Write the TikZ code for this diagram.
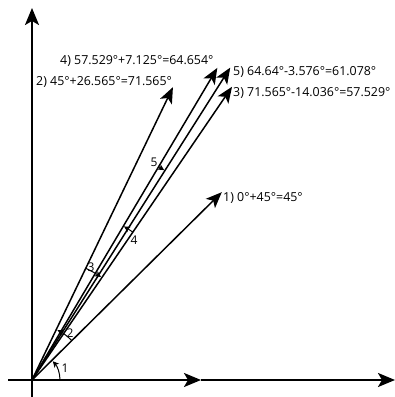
\documentclass[tikz,border=0pt]{standalone}
\usepackage{fontspec}
\setmainfont{Open Sans}
\usetikzlibrary{arrows.meta,calc}
\begin{document}
\begin{tikzpicture}[x=1pt,y=1pt,
  axis/.style={line width=2pt,-{Stealth[length=17pt,width=14pt,inset=4pt]}},
  vec/.style={line width=1.5pt,-{Stealth[length=16pt,width=13pt,inset=4pt]}},
  ang/.style={line width=1pt,-{Stealth[length=6pt,width=6pt,inset=1.5pt]}},
  lab/.style={inner sep=0pt,anchor=west,font=\fontsize{12.4}{14}\selectfont},
  num/.style={inner sep=0pt,font=\fontsize{12}{14}\selectfont}]
\useasboundingbox (0,0) rectangle (395,397);
\coordinate (O) at (32,17);
\coordinate (xs) at (8,17);
\coordinate (xm) at (201,17);
\coordinate (xe) at (395,17);
\coordinate (ys) at (32,0);
\coordinate (ye) at (32,389);
\coordinate (t1) at ($(O)+(44.7:267)$);
\coordinate (t2) at ($(O)+(64.3:325)$);
\coordinate (t4) at ($(O)+(59.3:363)$);
\coordinate (t5) at ($(O)+(57.6:370)$);
\coordinate (t3) at ($(O)+(55.7:355)$);
% axes
\draw[axis] (xs) -- (xm);
\draw[axis] (xm) -- (xe);
\draw[axis] (ys) -- (ye);
% vectors
\draw[vec] (O) -- (t1);
\draw[vec] (O) -- (t2);
\draw[vec] (O) -- (t4);
\draw[vec] (O) -- (t5);
\draw[vec] (O) -- (t3);
% angle arcs
\draw[ang] ($(O)+(0:28)$) arc[start angle=0,end angle=42,radius=28];
\draw[ang] ($(O)+(44.7:56)$) arc[start angle=44.7,end angle=63,radius=56];
\draw[ang] ($(O)+(64.3:124)$) arc[start angle=64.3,end angle=56.2,radius=124];
\draw[ang] ($(O)+(55.7:179)$) arc[start angle=55.7,end angle=59.1,radius=179];
\draw[ang] ($(O)+(59.3:248)$) arc[start angle=59.3,end angle=57.8,radius=248];
% angle numbers
\node[num] (n1) at (65,29) {1};
\node[num] (n2) at (70,64) {2};
\node[num] (n3) at (91,130) {3};
\node[num] (n4) at (134,157) {4};
\node[num] (n5) at (154,235) {5};
% labels
\node[lab] (l4) at (60,336) {4) 57.529°+7.125°=64.654°};
\node[lab] (l2) at (36,315) {2) 45°+26.565°=71.565°};
\node[lab] (l5) at (233,325) {5) 64.64°-3.576°=61.078°};
\node[lab] (l3) at (233,304) {3) 71.565°-14.036°=57.529°};
\node[lab] (l1) at (223,199) {1) 0°+45°=45°};
\end{tikzpicture}
\end{document}
